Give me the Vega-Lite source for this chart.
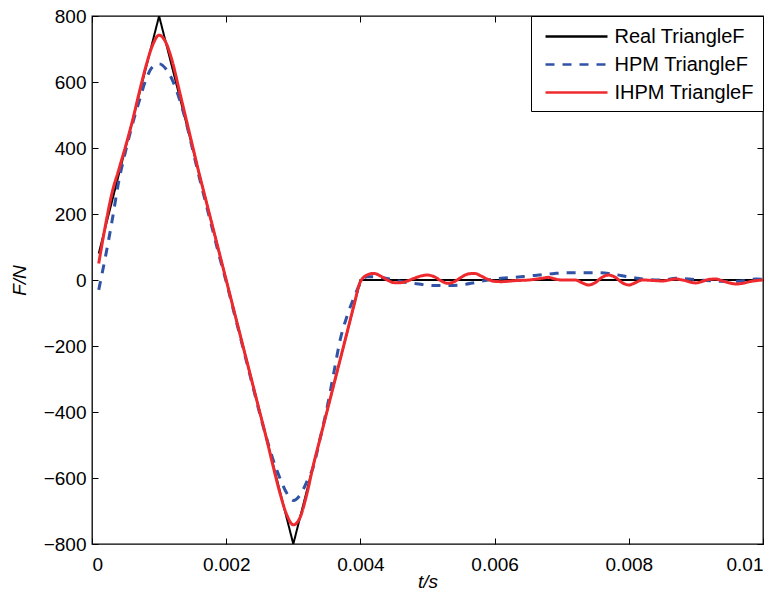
{
  "$schema": "https://vega.github.io/schema/vega-lite/v6.json",
  "width": 671,
  "height": 528,
  "autosize": "none",
  "padding": {"left": 92, "top": 16, "right": 19, "bottom": 56},
  "background": "white",
  "config": {
    "font": "Liberation Sans",
    "view": {"stroke": "black", "strokeWidth": 1.3},
    "axis": {
      "domain": false,
      "grid": false,
      "tickColor": "black",
      "tickSize": -6,
      "tickWidth": 1,
      "labelColor": "black",
      "labelFontSize": 19,
      "titleColor": "black",
      "titleFontSize": 19,
      "titleFontStyle": "italic",
      "titleFontWeight": "normal"
    },
    "legend": {
      "orient": "top-right",
      "offset": 0,
      "strokeColor": "black",
      "fillColor": "white",
      "padding": 8.5,
      "labelFontSize": 20,
      "labelColor": "black",
      "symbolType": "M-3,0H3",
      "symbolStrokeWidth": 2.5,
      "symbolSize": 427,
      "symbolOffset": 25,
      "labelOffset": 26,
      "rowPadding": 6,
      "title": null
    }
  },
  "datasets": {
    "real": [
      {"t": 0.0001, "F": 80},
      {"t": 0.001, "F": 800},
      {"t": 0.003, "F": -800},
      {"t": 0.004, "F": 0},
      {"t": 0.01, "F": 0}
    ],
    "hpm": [
      {"t": 0.0001, "F": -30}, {"t": 0.0002, "F": 70}, {"t": 0.0003, "F": 180}, {"t": 0.0004, "F": 300},
      {"t": 0.0005, "F": 390}, {"t": 0.0006, "F": 470}, {"t": 0.0007, "F": 540}, {"t": 0.0008, "F": 605},
      {"t": 0.0009, "F": 645}, {"t": 0.001, "F": 655}, {"t": 0.0011, "F": 640}, {"t": 0.0012, "F": 605},
      {"t": 0.0013, "F": 550}, {"t": 0.0014, "F": 480}, {"t": 0.0015, "F": 395}, {"t": 0.0016, "F": 310},
      {"t": 0.0017, "F": 230}, {"t": 0.0018, "F": 150}, {"t": 0.0019, "F": 70}, {"t": 0.002, "F": -5},
      {"t": 0.0021, "F": -85}, {"t": 0.0022, "F": -165}, {"t": 0.0023, "F": -245}, {"t": 0.0024, "F": -325},
      {"t": 0.0025, "F": -405}, {"t": 0.0026, "F": -478}, {"t": 0.0027, "F": -545}, {"t": 0.0028, "F": -600},
      {"t": 0.0029, "F": -645}, {"t": 0.003, "F": -668}, {"t": 0.0031, "F": -652}, {"t": 0.0032, "F": -612},
      {"t": 0.0033, "F": -565}, {"t": 0.0034, "F": -480}, {"t": 0.0035, "F": -390}, {"t": 0.0036, "F": -285},
      {"t": 0.0037, "F": -180}, {"t": 0.0038, "F": -110}, {"t": 0.0039, "F": -55}, {"t": 0.004, "F": -10},
      {"t": 0.0041, "F": 10}, {"t": 0.0043, "F": 8}, {"t": 0.0045, "F": 0}, {"t": 0.0047, "F": -8},
      {"t": 0.0049, "F": -13}, {"t": 0.0051, "F": -17}, {"t": 0.0053, "F": -17}, {"t": 0.0055, "F": -15},
      {"t": 0.0057, "F": -8}, {"t": 0.0059, "F": 0}, {"t": 0.0061, "F": 5}, {"t": 0.0063, "F": 8},
      {"t": 0.0065, "F": 12}, {"t": 0.0067, "F": 16}, {"t": 0.0069, "F": 20}, {"t": 0.0071, "F": 22},
      {"t": 0.0073, "F": 22}, {"t": 0.0075, "F": 22}, {"t": 0.0077, "F": 20}, {"t": 0.0079, "F": 13},
      {"t": 0.0081, "F": 6}, {"t": 0.0083, "F": 1}, {"t": 0.0085, "F": 0}, {"t": 0.0087, "F": 5},
      {"t": 0.0089, "F": 3}, {"t": 0.0091, "F": -1}, {"t": 0.0093, "F": -3}, {"t": 0.0095, "F": -5},
      {"t": 0.0097, "F": -2}, {"t": 0.0099, "F": 3}, {"t": 0.01, "F": 2}
    ],
    "ihpm": [
      {"t": 0.0001, "F": 50}, {"t": 0.0002, "F": 165}, {"t": 0.0003, "F": 265}, {"t": 0.0004, "F": 335},
      {"t": 0.0005, "F": 405}, {"t": 0.0006, "F": 480}, {"t": 0.0007, "F": 565}, {"t": 0.0008, "F": 645},
      {"t": 0.0009, "F": 710}, {"t": 0.001, "F": 742}, {"t": 0.0011, "F": 720}, {"t": 0.0012, "F": 660},
      {"t": 0.0013, "F": 575}, {"t": 0.0014, "F": 490}, {"t": 0.0015, "F": 405}, {"t": 0.0016, "F": 320},
      {"t": 0.0017, "F": 240}, {"t": 0.0018, "F": 160}, {"t": 0.0019, "F": 80}, {"t": 0.002, "F": 0},
      {"t": 0.0021, "F": -80}, {"t": 0.0022, "F": -160}, {"t": 0.0023, "F": -240}, {"t": 0.0024, "F": -320},
      {"t": 0.0025, "F": -400}, {"t": 0.0026, "F": -480}, {"t": 0.0027, "F": -565}, {"t": 0.0028, "F": -645},
      {"t": 0.0029, "F": -710}, {"t": 0.003, "F": -742}, {"t": 0.0031, "F": -720}, {"t": 0.0032, "F": -650},
      {"t": 0.0033, "F": -560}, {"t": 0.0034, "F": -480}, {"t": 0.0035, "F": -400}, {"t": 0.0036, "F": -320},
      {"t": 0.0037, "F": -240}, {"t": 0.0038, "F": -160}, {"t": 0.0039, "F": -80}, {"t": 0.004, "F": -5},
      {"t": 0.0041, "F": 15}, {"t": 0.0042, "F": 20}, {"t": 0.0043, "F": 12}, {"t": 0.0044, "F": 0},
      {"t": 0.0045, "F": -8}, {"t": 0.0046, "F": -8}, {"t": 0.0047, "F": -3}, {"t": 0.0048, "F": 5},
      {"t": 0.0049, "F": 12}, {"t": 0.005, "F": 15}, {"t": 0.0051, "F": 10}, {"t": 0.0052, "F": -2},
      {"t": 0.0053, "F": -10}, {"t": 0.0054, "F": -5}, {"t": 0.0055, "F": 8}, {"t": 0.0056, "F": 18},
      {"t": 0.0057, "F": 20}, {"t": 0.0058, "F": 12}, {"t": 0.0059, "F": 2}, {"t": 0.006, "F": -4},
      {"t": 0.0061, "F": -5}, {"t": 0.0063, "F": -2}, {"t": 0.0065, "F": 0}, {"t": 0.0067, "F": 5},
      {"t": 0.0068, "F": 8}, {"t": 0.0069, "F": 3}, {"t": 0.007, "F": 0}, {"t": 0.0072, "F": 0},
      {"t": 0.0073, "F": -8}, {"t": 0.0074, "F": -15}, {"t": 0.0075, "F": -8}, {"t": 0.0076, "F": 8},
      {"t": 0.0077, "F": 15}, {"t": 0.0078, "F": 8}, {"t": 0.0079, "F": -8}, {"t": 0.008, "F": -15},
      {"t": 0.0081, "F": -8}, {"t": 0.0082, "F": 0}, {"t": 0.0084, "F": -2}, {"t": 0.0085, "F": -3},
      {"t": 0.0087, "F": 3}, {"t": 0.0088, "F": 0}, {"t": 0.009, "F": -9}, {"t": 0.0091, "F": -4},
      {"t": 0.0092, "F": 2}, {"t": 0.0093, "F": 3}, {"t": 0.0094, "F": -3}, {"t": 0.0096, "F": -12},
      {"t": 0.0097, "F": -10}, {"t": 0.0098, "F": -5}, {"t": 0.01, "F": 0}
    ]
  },
  "resolve": {"axis": {"x": "independent", "y": "independent"}},
  "layer": [
    {
      "data": {"name": "real"},
      "mark": {"type": "line", "strokeWidth": 2, "clip": true},
      "encoding": {
        "x": {"field": "t", "type": "quantitative", "scale": {"domain": [0, 0.01], "nice": false, "zero": false},
              "axis": {"orient": "bottom", "values": [0, 0.002, 0.004, 0.006, 0.008, 0.01], "format": "~g", "title": "t/s", "labelPadding": 17, "titlePadding": -2}},
        "y": {"field": "F", "type": "quantitative", "scale": {"domain": [-800, 800], "nice": false, "zero": false},
              "axis": {"orient": "left", "values": [-800, -600, -400, -200, 0, 200, 400, 600, 800], "format": "d", "title": "F/N", "labelPadding": 12, "titlePadding": 14}},
        "color": {"datum": "Real TriangleF", "type": "nominal",
                  "scale": {"domain": ["Real TriangleF", "HPM TriangleF", "IHPM TriangleF"], "range": ["#000000", "#3153a6", "#ee2a2e"]}},
        "strokeDash": {"datum": "Real TriangleF", "type": "nominal",
                  "scale": {"domain": ["Real TriangleF", "HPM TriangleF", "IHPM TriangleF"], "range": [[1, 0], [9, 8], [1, 0]]}}
      }
    },
    {
      "data": {"name": "hpm"},
      "mark": {"type": "line", "strokeWidth": 3, "interpolate": "monotone", "clip": true},
      "encoding": {
        "x": {"field": "t", "type": "quantitative",
              "axis": {"orient": "top", "values": [0, 0.002, 0.004, 0.006, 0.008, 0.01], "labels": false, "title": null}},
        "y": {"field": "F", "type": "quantitative",
              "axis": {"orient": "right", "values": [-800, -600, -400, -200, 0, 200, 400, 600, 800], "labels": false, "title": null}},
        "color": {"datum": "HPM TriangleF", "type": "nominal"},
        "strokeDash": {"datum": "HPM TriangleF", "type": "nominal"}
      }
    },
    {
      "data": {"name": "ihpm"},
      "mark": {"type": "line", "strokeWidth": 3, "interpolate": "monotone", "clip": true},
      "encoding": {
        "x": {"field": "t", "type": "quantitative", "axis": null},
        "y": {"field": "F", "type": "quantitative", "axis": null},
        "color": {"datum": "IHPM TriangleF", "type": "nominal"},
        "strokeDash": {"datum": "IHPM TriangleF", "type": "nominal"}
      }
    }
  ]
}
